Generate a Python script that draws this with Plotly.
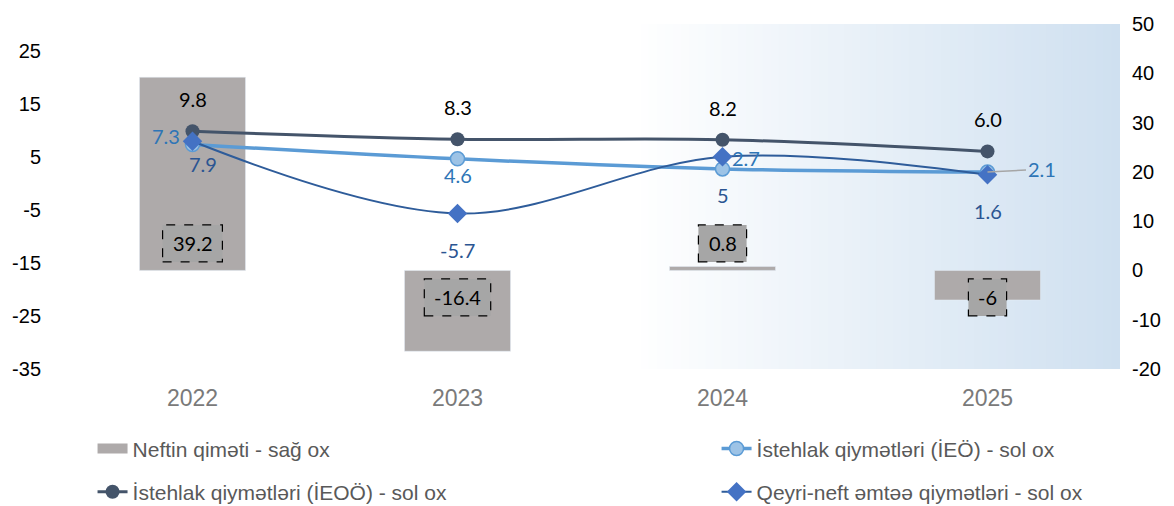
import plotly.graph_objects as go

# ---------------- data ----------------
years = ["2022", "2023", "2024", "2025"]
oil_price = [39.2, -16.4, 0.8, -6]          # right axis (bars)
cpi_ieo = [7.3, 4.6, 2.7, 2.1]              # light blue, left axis
cpi_ieoo = [9.8, 8.3, 8.2, 6.0]             # dark, left axis
nonoil = [7.9, -5.7, 5, 1.6]                # diamonds, left axis

left_ticks = [-35, -25, -15, -5, 5, 15, 25]
right_ticks = [-20, -10, 0, 10, 20, 30, 40, 50]

names = {
    "oil": "Neftin qiməti - sağ ox",
    "ieo": "İstehlak qiymətləri (İEÖ) - sol ox",
    "ieoo": "İstehlak qiymətləri (İEOÖ) - sol ox",
    "nonoil": "Qeyri-neft əmtəə qiymətləri - sol ox",
}

# ---------------- styles ----------------
C_BAR = "#AEAAAA"
C_DARK = "#44546A"
C_LIGHT = "#5B9BD5"
C_LIGHT_FILL = "#9DC3E6"
C_DIAM_LINE = "#2E5C9A"
C_DIAM = "#4472C4"
C_LBL_LIGHT = "#2E75B6"
C_LBL_DIAM = "#2B5592"
LBL_FONT = "Lato"
AX_FONT = "Liberation Sans, Arial"

# page has an 8px body margin, so the figure is a bit smaller than the window
W, H = 1166, 498
ML, MR, MT, MB = 52, 54, 16, 137
PLOT_W = W - ML - MR
PLOT_H = H - MT - MB
R_RANGE = [-20, 50]
L_RANGE = [-35, 30]

fig = go.Figure()

fig.add_trace(go.Bar(
    x=years, y=oil_price, name=names["oil"], marker_color=C_BAR,
    width=0.4, yaxis="y", legend="legend", legendgroup="a", showlegend=False,
))
# legend entry for the bars (wide grey swatch, same legend group as the bars)
fig.add_trace(go.Scatter(
    x=[None], y=[None], name=names["oil"], mode="lines", yaxis="y",
    line=dict(color=C_BAR, width=12), legend="legend", legendgroup="a",
    hoverinfo="skip",
))
fig.add_trace(go.Scatter(
    x=years, y=cpi_ieo, name=names["ieo"], yaxis="y2", mode="lines+markers",
    line=dict(color=C_LIGHT, width=3.5, shape="spline"),
    marker=dict(symbol="circle", size=14, color=C_LIGHT_FILL,
                line=dict(color=C_LIGHT, width=1.5)),
    legend="legend2", legendgroup="c",
))
fig.add_trace(go.Scatter(
    x=years, y=cpi_ieoo, name=names["ieoo"], yaxis="y2", mode="lines+markers",
    line=dict(color=C_DARK, width=3, shape="spline"),
    marker=dict(symbol="circle", size=14, color=C_DARK),
    legend="legend", legendgroup="b",
))
fig.add_trace(go.Scatter(
    x=years, y=nonoil, name=names["nonoil"], yaxis="y2", mode="lines+markers",
    line=dict(color=C_DIAM_LINE, width=2, shape="spline"),
    marker=dict(symbol="diamond", size=15, color=C_DIAM),
    legend="legend2", legendgroup="d",
))

shapes = []
annotations = []

# gradient plot-area background (white -> light blue, left to right)
g0 = 0.54
n = 60
c_end = (207, 224, 240)
for i in range(n):
    t = (i + 0.5) / n
    r = round(255 + (c_end[0] - 255) * t)
    g = round(255 + (c_end[1] - 255) * t)
    b = round(255 + (c_end[2] - 255) * t)
    x0 = g0 + (1 - g0) * i / n
    x1 = g0 + (1 - g0) * (i + 1) / n + 0.001
    shapes.append(dict(type="rect", xref="x domain", yref="y domain",
                       x0=x0, x1=min(x1, 1.0), y0=0, y1=1, layer="below",
                       line=dict(width=0), fillcolor=f"rgb({r},{g},{b})"))

# bar value labels in dashed boxes near the base
px_per_cat = PLOT_W / len(years)
px_per_unit = PLOT_H / (R_RANGE[1] - R_RANGE[0])


def text_w(s):
    w = 0
    for ch in s:
        w += 5 if ch == "." else (6.6 if ch == "-" else 11.6)
    return w + 20


for i, v in enumerate(oil_price):
    s = f"{v:g}"
    w = text_w(s)
    off = 27 if v >= 0 else -27
    shapes.append(dict(type="rect", xref="x", yref="y",
                       x0=i - w / 2 / px_per_cat, x1=i + w / 2 / px_per_cat,
                       y0=(off - 18.5) / px_per_unit, y1=(off + 18.5) / px_per_unit,
                       fillcolor="#A6A6A6", layer="above",
                       line=dict(color="#000000", width=1.2, dash="dash")))
    annotations.append(dict(x=i, y=0, xref="x", yref="y", text=s,
                            showarrow=False, yshift=off,
                            font=dict(family=LBL_FONT, size=20, color="#000000")))

# dark series labels (above)
for i, v in enumerate(cpi_ieoo):
    annotations.append(dict(x=i, y=v, xref="x", yref="y2", text=f"{v:.1f}",
                            showarrow=False, yshift=32,
                            font=dict(family=LBL_FONT, size=20, color="#000000")))

# light blue series labels
ieo_shift = [(-27, 8), (0, -16), (23, 11), None]
for i, v in enumerate(cpi_ieo):
    if ieo_shift[i] is None:
        annotations.append(dict(x=i, y=v, xref="x", yref="y2", text=f"{v:g}",
                                showarrow=True, arrowhead=0, arrowwidth=1.5,
                                arrowcolor="#A6A6A6", ax=54, ay=-3, standoff=0,
                                font=dict(family=LBL_FONT, size=20, color=C_LBL_LIGHT)))
    else:
        dx, dy = ieo_shift[i]
        annotations.append(dict(x=i, y=v, xref="x", yref="y2", text=f"{v:g}",
                                showarrow=False, xshift=dx, yshift=dy,
                                font=dict(family=LBL_FONT, size=20, color=C_LBL_LIGHT)))

# diamond series labels (below)
diam_shift = [(10, -23), (0, -37), (0, -38), (0, -36)]
for i, (v, (dx, dy)) in enumerate(zip(nonoil, diam_shift)):
    annotations.append(dict(x=i, y=v, xref="x", yref="y2", text=f"{v:g}",
                            showarrow=False, xshift=dx, yshift=dy,
                            font=dict(family=LBL_FONT, size=20, color=C_LBL_DIAM)))

legend_font = dict(family=AX_FONT, size=21, color="#595959")

fig.update_layout(
    width=W, height=H,
    margin=dict(l=ML, r=MR, t=MT, b=MB, autoexpand=False),
    paper_bgcolor="white", plot_bgcolor="white",
    showlegend=True,
    barmode="overlay",
    xaxis=dict(type="category", categoryorder="array", categoryarray=years,
               range=[-0.5, 3.5], showgrid=False, showline=False, zeroline=False,
               ticks="", tickfont=dict(family=AX_FONT, size=23, color="#7A7A7A"),
               ticklabelstandoff=13, automargin=False),
    yaxis=dict(side="right", range=R_RANGE, tickvals=right_ticks,
               ticktext=[str(v) for v in right_ticks],
               showgrid=False, showline=False, zeroline=False, ticks="",
               tickfont=dict(family=AX_FONT, size=20, color="#000000"),
               ticklabelstandoff=11, automargin=False),
    yaxis2=dict(side="left", overlaying="y", range=L_RANGE, tickvals=left_ticks,
                ticktext=[str(v) for v in left_ticks],
                showgrid=False, showline=False, zeroline=False, ticks="",
                tickfont=dict(family=AX_FONT, size=20, color="#000000"),
                ticklabelstandoff=18, automargin=False),
    legend=dict(x=0.0307, y=-0.172, xanchor="left", yanchor="top",
                orientation="v", font=legend_font, tracegroupgap=13,
                bgcolor="rgba(0,0,0,0)"),
    legend2=dict(x=0.6194, y=-0.172, xanchor="left", yanchor="top",
                 orientation="v", font=legend_font, tracegroupgap=13,
                 bgcolor="rgba(0,0,0,0)"),
    shapes=shapes,
    annotations=annotations,
)

fig.write_html("out.html")
